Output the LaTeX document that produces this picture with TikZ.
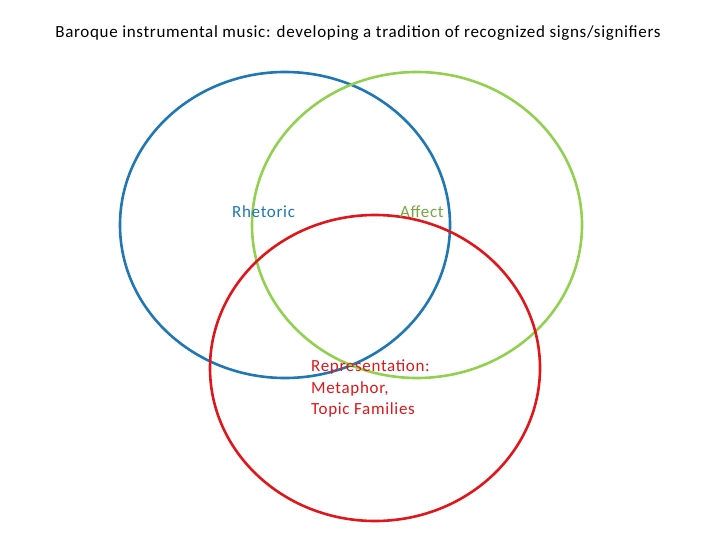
\documentclass[tikz,border=0pt]{standalone}
\usepackage{fontspec}
\setmainfont{Carlito}[LetterSpace=4]
\begin{document}
\begin{tikzpicture}[x=1pt,y=-1pt,
  ring/.style={line width=2.6pt},
  lbl/.style={font=\fontsize{17}{21.5}\selectfont,inner sep=0pt}]
\useasboundingbox (0,0) rectangle (720,540);
\definecolor{cblue}{HTML}{1F77B4}
\definecolor{cgreen}{HTML}{92D050}
\definecolor{cred}{HTML}{E0161B}
\draw[ring,cblue] (285,225) ellipse [x radius=165, y radius=153];
\draw[ring,cgreen] (417,225) ellipse [x radius=165, y radius=153];
\draw[ring,cred] (375,368) ellipse [x radius=165, y radius=153];
\node[lbl] (title) at (358,33) {Baroque instrumental music: developing a tradition of recognized signs/signifiers};
\node[lbl,text=cblue,anchor=west] (rh) at (232,212) {Rhetoric};
\node[lbl,text=cgreen!80!black,anchor=west] (af) at (400,212) {Affect};
\node[lbl,text=cred,anchor=north west,align=left] (rep) at (311,360) {Representation:\\Metaphor,\\Topic Families};
\end{tikzpicture}
\end{document}
